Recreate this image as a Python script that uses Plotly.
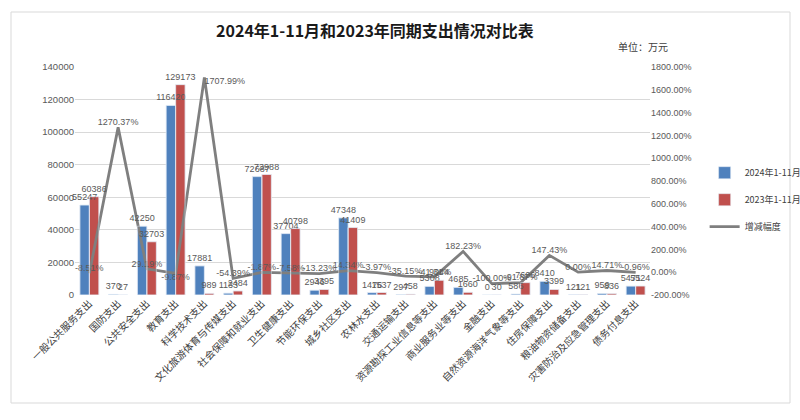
import plotly.graph_objects as go

categories = [
    '一般公共服务支出', '国防支出', '公共安全支出', '教育支出', '科学技术支出',
    '文化旅游体育与传媒支出', '社会保障和就业支出', '卫生健康支出', '节能环保支出',
    '城乡社区支出', '农林水支出', '交通运输支出', '资源勘探工业信息等支出',
    '商业服务业等支出', '金融支出', '自然资源海洋气象等支出', '住房保障支出',
    '粮油物资储备支出', '灾害防治及应急管理支出', '债务付息支出',
]
spend_2024 = [55247, 370, 42250, 116420, 17881, 1133, 72687, 37704, 2946, 47348,
              1476, 297, 5308, 4685, 0, 586, 8410, 121, 959, 5471]
spend_2023 = [60386, 27, 32703, 129173, 989, 2484, 73988, 40798, 3395, 41409,
              1537, 458, 9044, 1660, 30, 7606, 3399, 121, 836, 5524]
change_pct = [-8.51, 1270.37, 29.19, -9.87, 1707.99, -54.39, -1.87, -7.58, -13.23, 14.34,
              -3.97, -35.15, -41.31, 182.23, -100.00, -91.87, 147.43, 0.00, 14.71, -0.96]
left_ticks = list(range(0, 140001, 20000))
right_ticks = list(range(-200, 1801, 200))

label_pos = ['top center'] * len(categories)
label_pos[3] = 'bottom center'
label_pos[4] = 'bottom right'

num_font = dict(family='Liberation Sans, Arial', size=9, color='#595959')
series = [('2024年1-11月', spend_2024, '#4F81BD'), ('2023年1-11月', spend_2023, '#C0504D')]

fig = go.Figure()
for name, vals, color in series:
    fig.add_trace(go.Bar(x=categories, y=vals, name=name, marker_color=color,
                         legendgroup=name))

fig.add_trace(go.Scatter(
    x=categories, y=change_pct, name='增减幅度', yaxis='y2',
    mode='lines+text', line=dict(color='#7F7F7F', width=2.8),
    text=[f'{v:.2f}%' for v in change_pct], textposition=label_pos,
    textfont=num_font, cliponaxis=False, legendgroup='c',
))

# same bars again, transparent, on an overlaid axis so their value labels sit above every bar
for name, vals, color in series:
    fig.add_trace(go.Bar(
        x=categories, y=vals, yaxis='y3', showlegend=False, hoverinfo='skip',
        marker_color='rgba(0,0,0,0)', text=[str(v) for v in vals],
        textposition='outside', textangle=0, constraintext='none',
        textfont=num_font, cliponaxis=False,
    ))

fig.update_layout(
    width=800, height=420,
    margin=dict(l=75, r=150, t=67, b=125, autoexpand=False),
    paper_bgcolor='white', plot_bgcolor='white',
    font=dict(family='Noto Sans CJK SC', color='#404040'),
    barmode='group', bargap=0.34, bargroupgap=0,
    title=dict(
        text='<b>2024年1-11月和2023年同期支出情况对比表</b>',
        x=375 / 800, xanchor='center', y=1 - 31 / 420, yanchor='middle',
        font=dict(family='Noto Sans CJK SC', size=16, color='#1a1a1a'),
    ),
    xaxis=dict(
        range=[-0.5, len(categories) - 0.5],
        tickangle=-45, showgrid=False, showline=False, ticks='', automargin=False,
        tickfont=dict(family='Noto Sans CJK SC', size=10, color='#404040'),
    ),
    yaxis=dict(
        range=[0, 140000], tickvals=left_ticks, ticktext=[str(v) for v in left_ticks],
        showgrid=True, gridcolor='#D9D9D9', gridwidth=1, zeroline=False,
        showline=False, ticks='', automargin=False,
        tickfont=dict(family='Liberation Sans, Arial', size=9.5, color='#595959'),
    ),
    yaxis2=dict(
        overlaying='y', side='right', range=[-200, 1800],
        tickvals=right_ticks, ticktext=[f'{v:.2f}%' for v in right_ticks],
        showgrid=False, zeroline=False, showline=False, ticks='', automargin=False,
        tickfont=dict(family='Liberation Sans, Arial', size=9, color='#595959'),
    ),
    yaxis3=dict(
        overlaying='y', range=[0, 140000], visible=False, automargin=False,
    ),
    legend=dict(
        x=1.095, xanchor='left', y=0.6, yanchor='top',
        font=dict(family='Noto Sans CJK SC', size=9, color='#404040'),
        tracegroupgap=8, bgcolor='rgba(0,0,0,0)',
    ),
    showlegend=True,
)

fig.add_annotation(
    text='单位：万元', xref='paper', yref='paper',
    x=(643 - 75) / 575, y=(295 - 47) / 228, xanchor='center', yanchor='middle',
    showarrow=False, font=dict(family='Noto Sans CJK SC', size=10, color='#404040'),
)

fig.add_shape(
    type='rect', xref='paper', yref='paper',
    x0=(11 - 75) / 575, x1=(790 - 75) / 575,
    y0=(295 - 403) / 228, y1=(295 - 12) / 228,
    line=dict(color='#D9D9D9', width=1), fillcolor='rgba(0,0,0,0)', layer='below',
)

# page body has an 8px default margin, drop it so the chart sits at the window corner
fig.write_html('out.html', config={'displayModeBar': False},
               post_script="document.body.style.margin='0';document.body.style.overflow='hidden';")
